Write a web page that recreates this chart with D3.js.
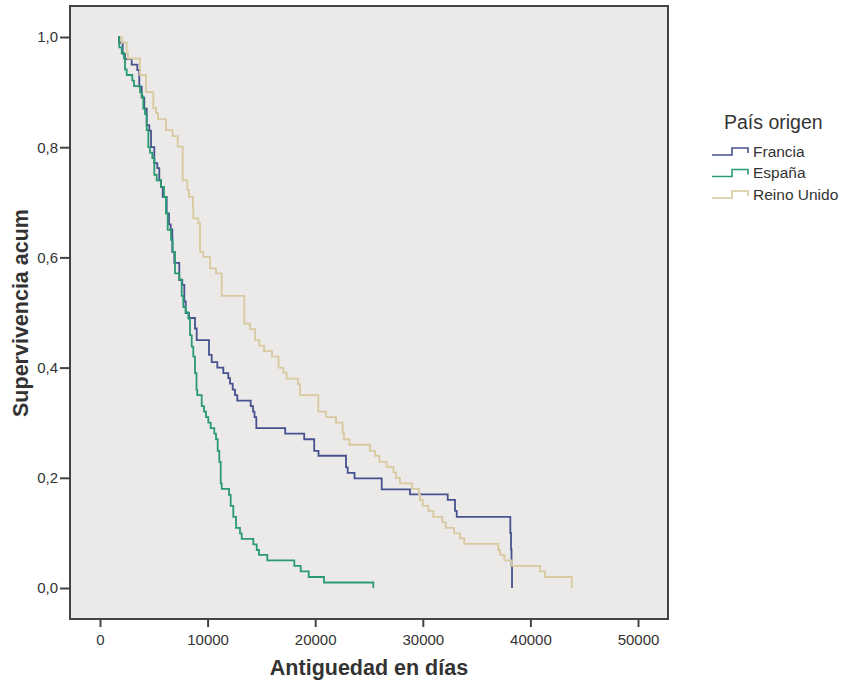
<!DOCTYPE html>
<html>
<head>
<meta charset="utf-8">
<script src="https://cdn.jsdelivr.net/npm/d3@7"></script>
<style>
  body { margin: 0; background: #fff; }
  text { font-family: "Liberation Sans", Arial, sans-serif; }
</style>
</head>
<body>
<div id="chart"></div>
<script>
// step curves: time (days) at which survival changes, and new survival value
const franciaT = [1750, 1766, 2110, 2324, 2946, 3467, 3652, 3876, 4117, 4340, 4582, 4740, 5047, 5325, 5511, 5669, 5827, 6199, 6413, 6571, 6720, 6905, 7370, 7649, 7835, 7965, 8272, 8829, 8987, 10130, 10381, 10902, 11460, 11924, 12082, 12333, 12547, 12761, 14006, 14220, 14360, 14527, 17213, 18979, 19908, 20307, 22863, 23021, 23653, 26181, 28811, 32315, 32994, 33152, 38134, 38199, 38245, 38292]
const franciaS = [1.0, 0.99, 0.969, 0.96, 0.95, 0.94, 0.91, 0.89, 0.87, 0.84, 0.83, 0.80, 0.771, 0.762, 0.74, 0.728, 0.71, 0.68, 0.66, 0.651, 0.61, 0.59, 0.559, 0.55, 0.52, 0.499, 0.49, 0.471, 0.45, 0.423, 0.41, 0.40, 0.39, 0.381, 0.371, 0.36, 0.35, 0.34, 0.33, 0.32, 0.31, 0.29, 0.28, 0.27, 0.249, 0.24, 0.219, 0.209, 0.199, 0.179, 0.17, 0.16, 0.14, 0.129, 0.10, 0.07, 0.04, 0.0]

const espanaT = [1673, 1794, 2017, 2231, 2324, 2481, 3002, 3160, 3718, 3876, 4024, 4182, 4340, 4489, 4647, 4861, 5047, 5270, 5669, 5948, 6134, 6292, 6599, 6757, 6971, 7370, 7593, 7742, 7965, 8207, 8365, 8523, 8671, 8829, 8969, 9043, 9452, 9666, 9852, 10065, 10288, 10623, 10781, 10939, 11088, 11218, 11311, 11989, 12147, 12389, 12640, 13012, 13170, 14248, 14564, 14777, 15549, 18058, 18653, 19397, 20819, 25400]
const espanaS = [1.0, 0.981, 0.971, 0.961, 0.941, 0.931, 0.921, 0.911, 0.90, 0.892, 0.87, 0.86, 0.831, 0.80, 0.79, 0.78, 0.75, 0.74, 0.728, 0.71, 0.68, 0.65, 0.632, 0.61, 0.571, 0.56, 0.53, 0.51, 0.50, 0.489, 0.459, 0.438, 0.42, 0.39, 0.36, 0.35, 0.33, 0.32, 0.31, 0.30, 0.29, 0.28, 0.27, 0.249, 0.229, 0.19, 0.18, 0.169, 0.149, 0.129, 0.109, 0.099, 0.089, 0.079, 0.069, 0.06, 0.05, 0.04, 0.03, 0.02, 0.01, 0.0]

const reinoT = [1860, 2017, 2481, 2602, 3718, 4275, 4954, 5205, 5390, 6134, 6757, 7221, 7686, 8114, 8270, 8640, 8670, 9136, 9294, 9601, 10223, 10781, 11311, 13411, 13941, 14406, 14805, 15242, 15986, 16590, 17036, 17352, 18402, 18588, 20289, 21004, 21934, 22556, 22677, 23170, 25094, 25559, 25958, 26646, 27278, 27510, 27882, 28997, 29648, 29741, 29992, 30512, 30977, 31814, 32129, 32901, 33458, 33858, 37018, 37176, 37576, 38263, 40894, 41358, 43840]
const reinoS = [1.0, 0.99, 0.97, 0.961, 0.931, 0.90, 0.871, 0.862, 0.851, 0.831, 0.820, 0.801, 0.74, 0.722, 0.71, 0.692, 0.671, 0.662, 0.61, 0.601, 0.58, 0.571, 0.53, 0.48, 0.47, 0.45, 0.44, 0.43, 0.42, 0.40, 0.391, 0.38, 0.37, 0.35, 0.32, 0.31, 0.30, 0.281, 0.27, 0.26, 0.249, 0.24, 0.229, 0.22, 0.21, 0.20, 0.19, 0.18, 0.169, 0.16, 0.149, 0.14, 0.129, 0.119, 0.109, 0.099, 0.09, 0.08, 0.069, 0.06, 0.05, 0.04, 0.03, 0.02, 0.0]

const seriesNames = ['Francia', 'España', 'Reino Unido']
const seriesColors = ['#465290', '#2a9a72', '#d9c9a0']
const xTicks = [0, 10000, 20000, 30000, 40000, 50000]
const yTicks = [0, 0.2, 0.4, 0.6, 0.8, 1.0]

const series = [
    { name: seriesNames[0], color: seriesColors[0], pts: franciaT.map((t, i) => [t, franciaS[i]]) },
    { name: seriesNames[1], color: seriesColors[1], pts: espanaT.map((t, i) => [t, espanaS[i]]) },
    { name: seriesNames[2], color: seriesColors[2], pts: reinoT.map((t, i) => [t, reinoS[i]]) }
]

const width = 843, height = 687
const box = { left: 70, top: 6, right: 668, bottom: 619 }

const svg = d3.select('#chart').append('svg')
    .attr('width', width)
    .attr('height', height)

const x = d3.scaleLinear().domain([0, 50000]).range([100, 638])
const y = d3.scaleLinear().domain([0, 1]).range([588, 37])

svg.append('rect')
    .attr('x', box.left)
    .attr('y', box.top)
    .attr('width', box.right - box.left)
    .attr('height', box.bottom - box.top)
    .attr('fill', '#ebeae8')

const fmt = d => d3.format('.1f')(d).replace('.', ',')

const xAxis = svg.append('g')
    .attr('transform', `translate(0,${box.bottom})`)
    .call(d3.axisBottom(x).tickValues(xTicks).tickFormat(d3.format('d')).tickSize(8).tickSizeOuter(0))
const yAxis = svg.append('g')
    .attr('transform', `translate(${box.left},0)`)
    .call(d3.axisLeft(y).tickValues(yTicks).tickFormat(fmt).tickSize(10).tickSizeOuter(0))

;[xAxis, yAxis].forEach(a => {
    a.select('.domain').remove()
    a.selectAll('.tick line').attr('stroke', '#444').attr('stroke-width', 2)
    a.selectAll('.tick text')
        .attr('fill', '#333')
        .style('font-size', '15px')
        .style('font-family', '"Liberation Sans", Arial, sans-serif')
})
xAxis.selectAll('.tick text').attr('dy', '0.71em').attr('y', 15)
yAxis.selectAll('.tick text').attr('x', -12)

const line = d3.line()
    .x(d => x(d[0]))
    .y(d => y(d[1]))
    .curve(d3.curveStepAfter)

svg.append('g')
    .selectAll('path')
    .data(series)
    .enter()
    .append('path')
    .attr('d', d => line(d.pts))
    .attr('fill', 'none')
    .attr('stroke', d => d.color)
    .attr('stroke-width', 1.8)

// frame on top
svg.append('rect')
    .attr('x', box.left)
    .attr('y', box.top)
    .attr('width', box.right - box.left)
    .attr('height', box.bottom - box.top)
    .attr('fill', 'none')
    .attr('stroke', '#444')
    .attr('stroke-width', 2)

svg.append('text')
    .attr('x', 369)
    .attr('y', 675)
    .attr('text-anchor', 'middle')
    .attr('fill', '#333')
    .style('font-size', '21.5px')
    .style('font-weight', 'bold')
    .text('Antiguedad en días')

svg.append('text')
    .attr('transform', 'translate(28,313) rotate(-90)')
    .attr('text-anchor', 'middle')
    .attr('fill', '#333')
    .style('font-size', '21.5px')
    .style('font-weight', 'bold')
    .text('Supervivencia acum')

// legend
const legend = svg.append('g').attr('transform', 'translate(712,0)')
legend.append('text')
    .attr('x', 12)
    .attr('y', 129)
    .attr('fill', '#333')
    .style('font-size', '19.5px')
    .text('País origen')

const items = legend.selectAll('g.item')
    .data(series)
    .enter()
    .append('g')
    .attr('class', 'item')
    .attr('transform', (d, i) => `translate(0,${151 + i * 21.5})`)
items.append('path')
    .attr('d', 'M0,4 H20 V-3 H36 V2')
    .attr('fill', 'none')
    .attr('stroke', d => d.color)
    .attr('stroke-width', 1.6)
items.append('text')
    .attr('x', 41)
    .attr('y', 5.5)
    .attr('fill', '#333')
    .style('font-size', '15.5px')
    .text(d => d.name)
</script>
</body>
</html>
